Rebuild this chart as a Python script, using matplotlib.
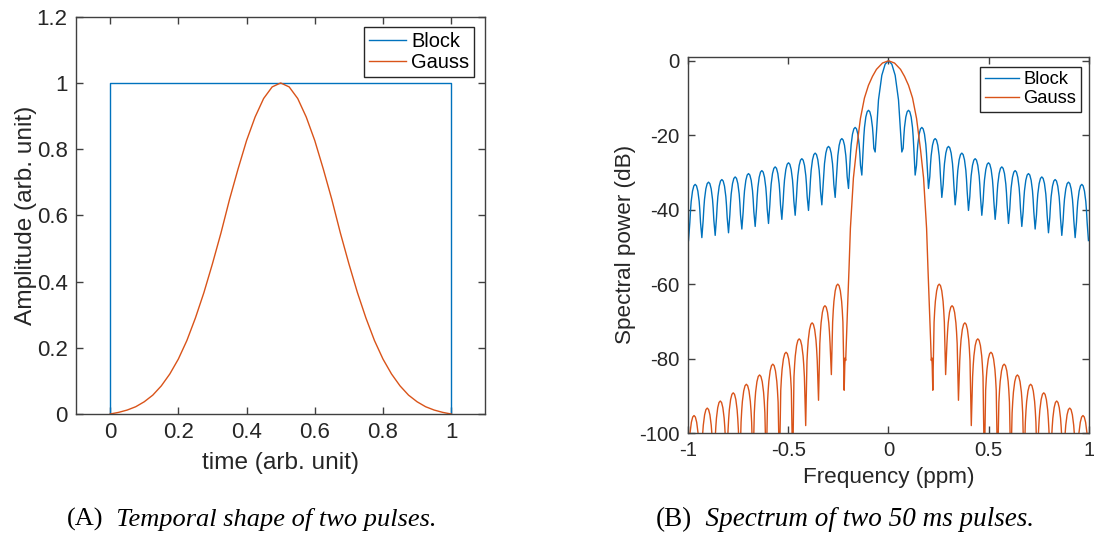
import numpy as np
import matplotlib
matplotlib.use('Agg')
import matplotlib.pyplot as plt

plt.rcParams['font.family'] = ['Liberation Sans', 'DejaVu Sans']

BLUE = '#0072BD'
ORANGE = '#D95319'
AX_COL = '0.25'

# ---------- (A) temporal shape ----------
block_t = [0.0, 0.0, 1.0, 1.0]
block_amp = [0.0, 1.0, 1.0, 0.0]

gauss_t = np.linspace(0, 1, 41)
gauss_half = [0.000, 0.005, 0.012, 0.022, 0.037, 0.057, 0.085, 0.121, 0.166, 0.222,
              0.290, 0.367, 0.454, 0.547, 0.648, 0.740, 0.826, 0.897, 0.953, 0.988, 1.000]
gauss_amp = gauss_half + gauss_half[-2::-1]

# ---------- (B) spectrum, positive-frequency half (plot is symmetric) ----------
# shape of one side lobe between two nulls
lobe_u = [0.1, 0.15, 0.2, 0.3, 0.4, 0.5, 0.6, 0.7, 0.8, 0.85, 0.9]
lobe_db = [-10.2, -7.0, -4.6, -1.8, -0.4, 0.0, -0.4, -1.8, -4.6, -7.0, -10.2]

block_main_f = [0.0, 0.0166, 0.0333, 0.0499, 0.0599]
block_main_db = [0.0, -0.9, -3.9, -10.5, -19.2]
block_null_f = [0.0665, 0.133, 0.1995, 0.266, 0.3325, 0.399, 0.4655, 0.532,
                0.5985, 0.665, 0.7315, 0.798, 0.8645, 0.931, 0.9975]
block_null_db = [-24.5, -30.7, -34.3, -36.7, -38.7, -40.2, -41.5, -42.6,
                 -43.7, -44.5, -45.2, -46.2, -46.9, -47.5, -48.3]
block_peak_db = [-13.3, -17.9, -20.9, -23.0, -24.8, -26.3, -27.4,
                 -28.5, -29.5, -30.3, -31.2, -31.9, -32.6, -33.2]

gauss_main_f = [0.0, 0.03, 0.06, 0.08, 0.10, 0.12, 0.14, 0.16, 0.175, 0.19,
                0.197, 0.204, 0.21, 0.2135, 0.216, 0.218]
gauss_main_db = [0.0, -0.6, -2.3, -4.2, -6.6, -10.0, -15.5, -24.0, -31.5, -45.0,
                 -56.0, -66.0, -75.0, -80.5, -79.8, -81.8]
gauss_null_f = [0.221, 0.285, 0.349, 0.413, 0.478, 0.544, 0.610, 0.676,
                0.742, 0.807, 0.871, 0.937, 1.003]
gauss_null_db = [-88.5, -84.3, -91.2, -98.0, -110, -110, -110, -110,
                 -110, -110, -110, -110, -110]
gauss_peak_db = [-60.0, -65.8, -70.4, -74.7, -78.3, -81.5,
                 -84.4, -86.9, -89.2, -91.4, -93.3, -95.3]


def build_spectrum(main_f, main_db, null_f, null_db, peak_db):
    f = list(main_f) + [null_f[0]]
    d = list(main_db) + [null_db[0]]
    for k, pk in enumerate(peak_db):
        lo, hi = null_f[k], null_f[k + 1]
        for u, off in zip(lobe_u, lobe_db):
            f.append(lo + u * (hi - lo))
            d.append(pk + off)
        f.append(hi)
        d.append(null_db[k + 1])
    f = np.array(f)
    d = np.array(d)
    # mirror to negative frequencies
    return np.concatenate([-f[::-1], f[1:]]), np.concatenate([d[::-1], d[1:]])


def style_axes(ax, size):
    for s in ax.spines.values():
        s.set_color(AX_COL)
        s.set_linewidth(1.0)
    ax.tick_params(direction='in', top=True, right=True, length=5, width=1.0,
                   color=AX_COL, labelcolor='0.15', labelsize=size, pad=6)


fig = plt.figure(figsize=(10.94, 5.40), dpi=100)

# --- panel A
axA = fig.add_axes([0.0695, 0.2333, 0.3741, 0.7357])
axA.plot(block_t, block_amp, color=BLUE, lw=1.0, label='Block')
axA.plot(gauss_t, gauss_amp, color=ORANGE, lw=1.0, label='Gauss')
axA.set_xlim(-0.1, 1.1)
axA.set_ylim(0, 1.2)
axA.set_xticks([0, 0.2, 0.4, 0.6, 0.8, 1])
axA.set_xticklabels(['0', '0.2', '0.4', '0.6', '0.8', '1'])
axA.set_yticks([0, 0.2, 0.4, 0.6, 0.8, 1, 1.2])
axA.set_yticklabels(['0', '0.2', '0.4', '0.6', '0.8', '1', '1.2'])
style_axes(axA, 16)
axA.set_xlabel('time (arb. unit)', fontsize=17.6, color='0.15', labelpad=6)
axA.set_ylabel('Amplitude (arb. unit)', fontsize=17.6, color='0.15', labelpad=0)
legA = axA.legend(loc='upper right', bbox_to_anchor=(0.9724, 0.9748), borderaxespad=0,
                  fontsize=14.4, fancybox=False, framealpha=1, edgecolor='0.15',
                  handlelength=1.85, handletextpad=0.25, labelspacing=0.1, borderpad=0.25)
legA.get_frame().set_linewidth(1.0)

# --- panel B
fB, dB = build_spectrum(block_main_f, block_main_db, block_null_f, block_null_db, block_peak_db)
fG, dG = build_spectrum(gauss_main_f, gauss_main_db, gauss_null_f, gauss_null_db, gauss_peak_db)

axB = fig.add_axes([0.6289, 0.1981, 0.3665, 0.6969])
axB.plot(fB, dB, color=BLUE, lw=1.0, label='Block')
axB.plot(fG, dG, color=ORANGE, lw=1.0, label='Gauss')
axB.set_xlim(-1, 1)
axB.set_ylim(-100, 1.1)
axB.set_xticks([-1, -0.5, 0, 0.5, 1])
axB.set_xticklabels(['-1', '-0.5', '0', '0.5', '1'])
axB.set_yticks([-100, -80, -60, -40, -20, 0])
axB.set_yticklabels(['-100', '-80', '-60', '-40', '-20', '0'])
style_axes(axB, 14.7)
axB.set_xlabel('Frequency (ppm)', fontsize=16.2, color='0.15', labelpad=5)
axB.set_ylabel('Spectral power (dB)', fontsize=16.2, color='0.15', labelpad=2)
legB = axB.legend(loc='upper right', bbox_to_anchor=(0.979, 0.9734), borderaxespad=0,
                  fontsize=13.2, fancybox=False, framealpha=1, edgecolor='0.15',
                  handlelength=1.85, handletextpad=0.25, labelspacing=0.1, borderpad=0.25)
legB.get_frame().set_linewidth(1.0)

# --- captions
serif = ['Liberation Serif', 'DejaVu Serif']
capA = fig.text(0.0612, 0.026, '(A)', fontsize=19, family=serif, va='baseline')
axA.annotate('  Temporal shape of two pulses.', xy=(1, 0), xycoords=capA,
             fontsize=19, family=serif, style='italic', va='bottom', ha='left')
capB = fig.text(0.599, 0.026, '(B)', fontsize=19.5, family=serif, va='baseline')
axB.annotate('  Spectrum of two 50 ms pulses.', xy=(1, 0), xycoords=capB,
             fontsize=19.5, family=serif, style='italic', va='bottom', ha='left')

fig.savefig('out.png', dpi=100)
